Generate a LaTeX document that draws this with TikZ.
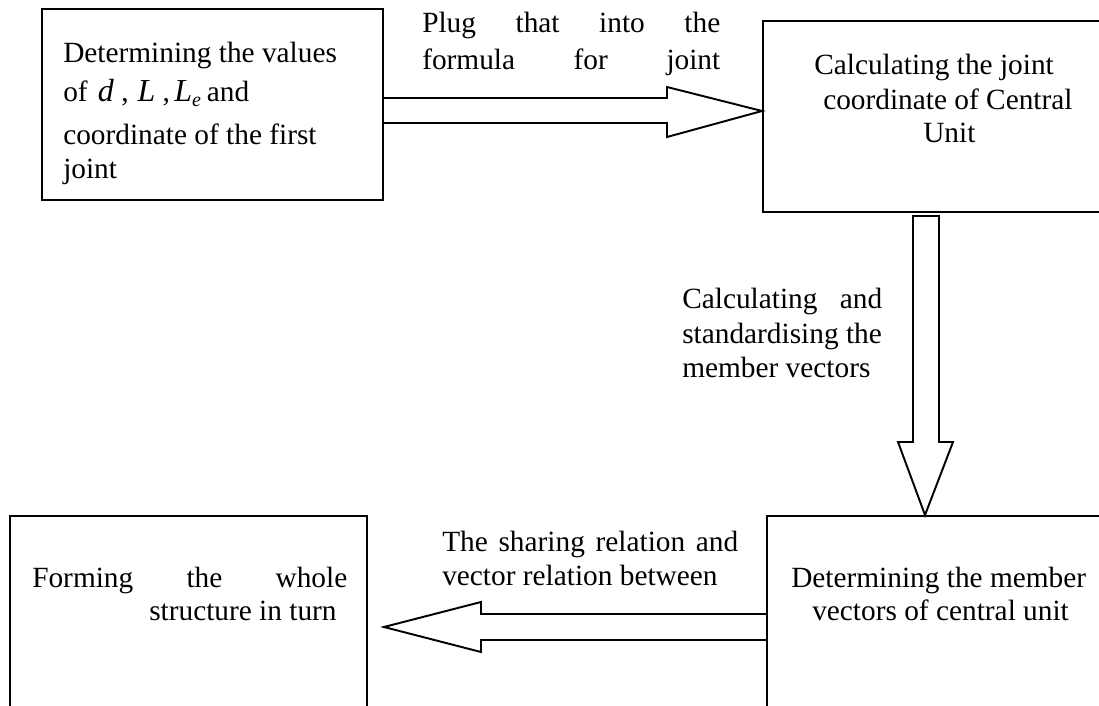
\documentclass[tikz,border=0pt]{standalone}
\usepackage{fontspec}
\setmainfont{Liberation Serif}
\usetikzlibrary{calc}
\begin{document}
\begin{tikzpicture}[x=0.75pt,y=-0.75pt,
  box/.style={draw,line width=1.45pt,inner sep=0pt},
  blockarrow/.style={draw,line width=1.45pt,line join=miter},
  txt/.style={anchor=base west,inner sep=0pt,font=\fontsize{22}{26}\selectfont},
  mathbig/.style={}]
\useasboundingbox (0,0) rectangle (1099,706);
\clip (0,0) rectangle (1099,706);
% boxes
\node[box,minimum width=255.75pt,minimum height=143.25pt] (b1) at (212.5,104.5) {};
\node[box,minimum width=260.25pt,minimum height=143.25pt] (b2) at (936.5,116.5) {};
\node[box,minimum width=257.25pt,minimum height=153pt] (b3) at (938.5,618) {};
\node[box,minimum width=267.75pt,minimum height=153pt] (b4) at (188.5,618) {};
% arrows
\draw[blockarrow] (b1.east |- 0,98) -- (667,98) -- (667,87) -- (b2.west |- 0,111)
  -- (667,137) -- (667,123) -- (b1.east |- 0,123);
\draw[blockarrow] ($(913,0 |- b2.south)+(0,3)$) -- (913,442) -- (898,442) -- (925,0 |- b3.north)
  -- (953,442) -- (939,442) -- ($(939,0 |- b2.south)+(0,3)$) -- cycle;
\coordinate (tipL) at ($(b4.east |- 0,627)+(16,0)$);
\draw[blockarrow] (b3.west |- 0,614) -- (481,614) -- (481,602) -- (tipL)
  -- (481,652) -- (481,640) -- (b3.west |- 0,640);
% box 1 text
\node[txt] (t1a) at (63,63) {Determining the values};
\node[txt] (t1b) at (63,102) {of\hspace{0.35em}{\fontsize{24}{26}\selectfont\textit{d}}\hspace{0.25em},\hspace{0.3em}{\fontsize{24}{26}\selectfont\textit{L}}\hspace{0.25em},\hspace{0.15em}{\fontsize{24}{26}\selectfont\textit{L}}\raisebox{-0.35ex}{\fontsize{15}{15}\selectfont\textit{e}}\hspace{0.2em}and};
\node[txt] (t1c) at (63,145) {coordinate of the first};
\node[txt] (t1d) at (63,179) {joint};
% arrow 1 label
\node[txt] (l1a) at (422,33) {\makebox[223.5pt][s]{Plug that into the}};
\node[txt] (l1b) at (422,70) {\makebox[223.5pt][s]{formula for joint}};
% box 2 text
\node[txt] (t2a) at (814,75) {Calculating the joint};
\node[txt] (t2b) at (823,110) {coordinate of Central};
\node[txt] (t2c) at (923,143) {Unit};
% down arrow label
\node[txt] (l2a) at (682,308) {\makebox[150pt][s]{Calculating and}};
\node[txt] (l2b) at (682,343) {standardising the};
\node[txt] (l2c) at (682,377) {member vectors};
% left arrow label
\node[txt] (l3a) at (442,551) {\makebox[222pt][s]{The sharing relation and}};
\node[txt] (l3b) at (442,585) {vector relation between};
% box 4 text
\node[txt] (t4a) at (32,587) {\makebox[236.25pt][s]{Forming the whole}};
\node[txt] (t4b) at (149,620) {structure in turn};
% box 3 text
\node[txt] (t3a) at (791,587) {Determining the member};
\node[txt] (t3b) at (812,620) {vectors of central unit};
\end{tikzpicture}
\end{document}
